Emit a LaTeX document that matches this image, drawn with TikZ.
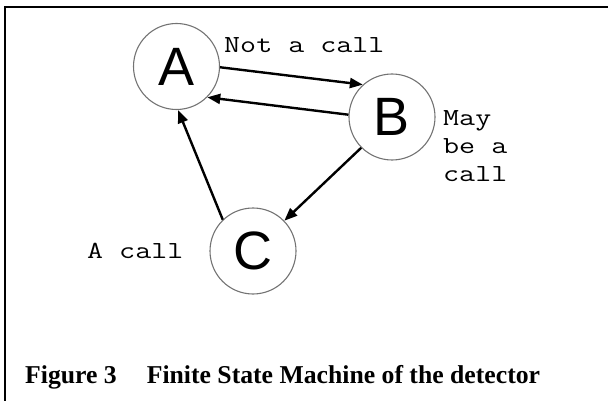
\documentclass[tikz,border=0pt]{standalone}
\usepackage{fontspec}
\setmainfont{Liberation Serif}
\newfontfamily\sansfam{Liberation Sans}
\usetikzlibrary{arrows.meta}
\newcommand{\wide}[1]{\scalebox{1.27}[1]{#1}}
\begin{document}
\begin{tikzpicture}[x=1pt,y=-1pt,
  state/.style={circle,draw=black!55,line width=1.1pt,minimum size=86pt,inner sep=0pt,
    font=\sansfam\fontsize{54}{54}\selectfont},
  lbl/.style={inner sep=0pt,font=\ttfamily\fontsize{24.5}{28}\selectfont},
  trans/.style={line width=2.4pt,-{Triangle[length=13pt,width=10pt]}}]
\useasboundingbox (0,0) rectangle (608,401);
\coordinate (tl) at (5,7);
\coordinate (tr) at (612,7);
\coordinate (bl) at (5,405);
\draw[line width=2.6pt] (tr) -- (tl) -- (bl);
\node[state] (A) at (176.5,66.5) {A};
\node[state] (B) at (392,117) {B};
\node[state] (C) at (253,251) {C};
\draw[trans] (A.-1) -- (B.132);
\draw[trans] (B.177) -- (A.-45);
\draw[trans] (C.134) -- (A.-88);
\draw[trans] (B.-135) -- (C.44);
\node[lbl,anchor=base west] (l1) at (224,53) {\wide{Not a call}};
\node[lbl,anchor=base west] (l2) at (443,126) {\wide{\begin{tabular}[t]{@{}l@{}}May\\be a\\call\end{tabular}}};
\node[lbl,anchor=base west] (l3) at (87,258) {\wide{A call}};
\node[inner sep=0pt,anchor=base west,font=\bfseries\fontsize{25.7}{28}\selectfont] (cap) at (25,383)
  {Figure 3\hspace{30pt}Finite State Machine of the detector};
\end{tikzpicture}
\end{document}
